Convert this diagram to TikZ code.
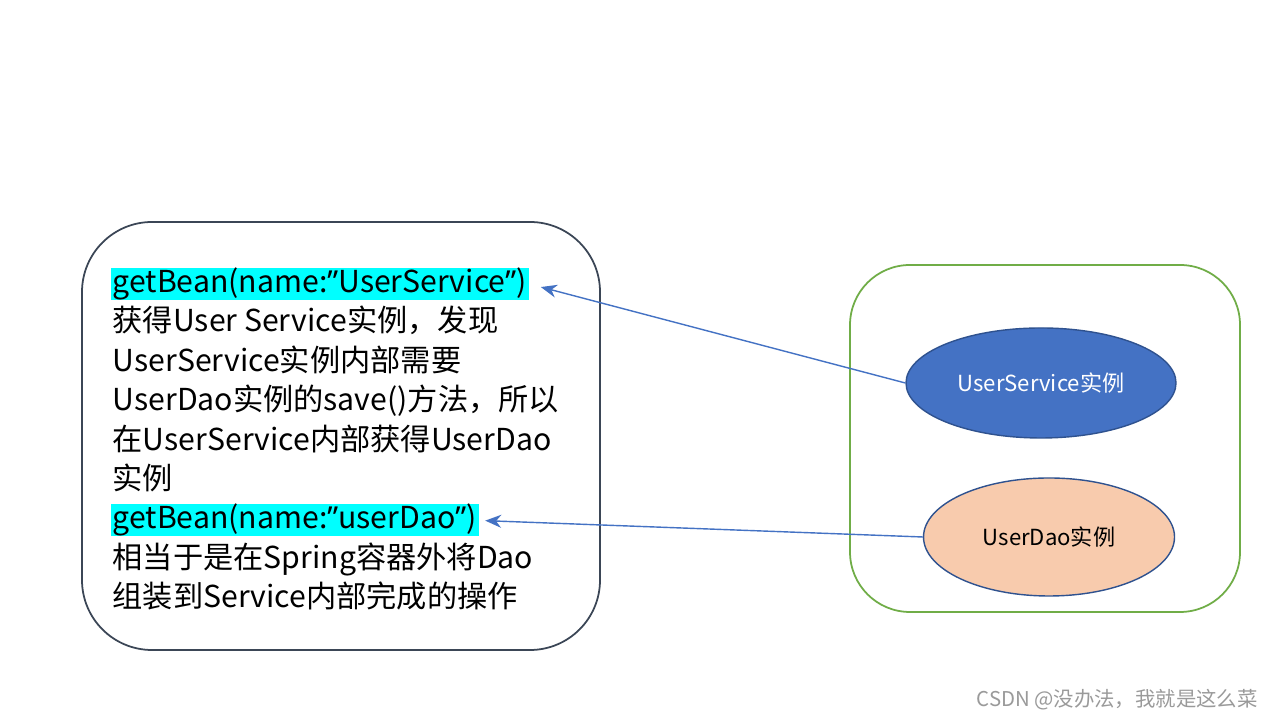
\documentclass[tikz,border=0pt]{standalone}
\usepackage{fontspec}
\setmainfont{Noto Sans CJK SC}
\newfontfamily\latinf{Noto Sans}
\usetikzlibrary{positioning,arrows.meta,shapes.geometric}
\definecolor{hlcyan}{HTML}{00FFFF}
\definecolor{objblue}{HTML}{4472C4}
\definecolor{objedge}{HTML}{2F528F}
\definecolor{daopeach}{HTML}{F8CBAD}
\definecolor{boxgreen}{HTML}{70AD47}
\definecolor{boxdark}{HTML}{3B4656}
\definecolor{markgray}{HTML}{9A9A9A}
\newcommand{\closeq}{{\latinf ”}}

\begin{document}
\begin{tikzpicture}[
  font=\fontsize{8.6}{10.6}\selectfont,
  txt line/.style={anchor=west, inner xsep=0.2mm, inner ysep=0pt, minimum height=3.2mm, text height=2.4mm, text depth=0.7mm},
  hl line/.style={txt line, fill=hlcyan},
  obj/.style={ellipse, draw=objedge, line width=0.4pt, inner sep=0pt, font=\fontsize{6.3}{7.5}\selectfont},
  call/.style={-{Stealth[length=1.6mm, width=1.3mm]}, draw=objblue, line width=0.4pt}
]
\fill[white] (0,0) rectangle (12.8,7.2);
\useasboundingbox (0,0) rectangle (12.8,7.2);

% ---------- left: code side ----------
\node[draw=boxdark, line width=0.5pt, rounded corners=7mm, minimum width=5.18cm, minimum height=4.28cm] (client) at (3.41,2.84) {};
\node[hl line] (l1) at (1.10,4.36) {getBean(name:\closeq UserService\closeq)};
\node[txt line, below=0.6mm of l1.south west, anchor=north west] (l2) {获得User Service实例，发现};
\node[txt line, below=0.6mm of l2.south west, anchor=north west] (l3) {UserService实例内部需要};
\node[txt line, below=0.6mm of l3.south west, anchor=north west] (l4) {UserDao实例的save()方法，所以};
\node[txt line, below=0.6mm of l4.south west, anchor=north west] (l5) {在UserService内部获得UserDao};
\node[txt line, below=0.6mm of l5.south west, anchor=north west] (l6) {实例};
\node[hl line, below=0.6mm of l6.south west, anchor=north west] (l7) {getBean(name:\closeq userDao\closeq)};
\node[txt line, below=0.6mm of l7.south west, anchor=north west] (l8) {相当于是在Spring容器外将Dao};
\node[txt line, below=0.6mm of l8.south west, anchor=north west] (l9) {组装到Service内部完成的操作};

% ---------- right: container ----------
\node[draw=boxgreen, line width=0.5pt, rounded corners=6mm, minimum width=3.90cm, minimum height=3.47cm] (container) at (10.45,2.815) {};
\node[obj, fill=objblue, text=white, minimum width=2.70cm, minimum height=1.10cm] (svc) at (10.41,3.37) {UserService实例};
\node[obj, fill=daopeach, minimum width=2.51cm, minimum height=1.18cm] (dao) at (10.49,1.83) {UserDao实例};

% ---------- arrows ----------
\draw[call, shorten >=1.2mm] (svc.west) -- (l1.east);
\draw[call, shorten >=0.6mm] (dao.west) -- (l7.east);

\node[text=markgray, anchor=east, font=\fontsize{5.8}{6.8}\selectfont] (mark) at (12.70,0.20) {CSDN @没办法，我就是这么菜};
\end{tikzpicture}
\end{document}
